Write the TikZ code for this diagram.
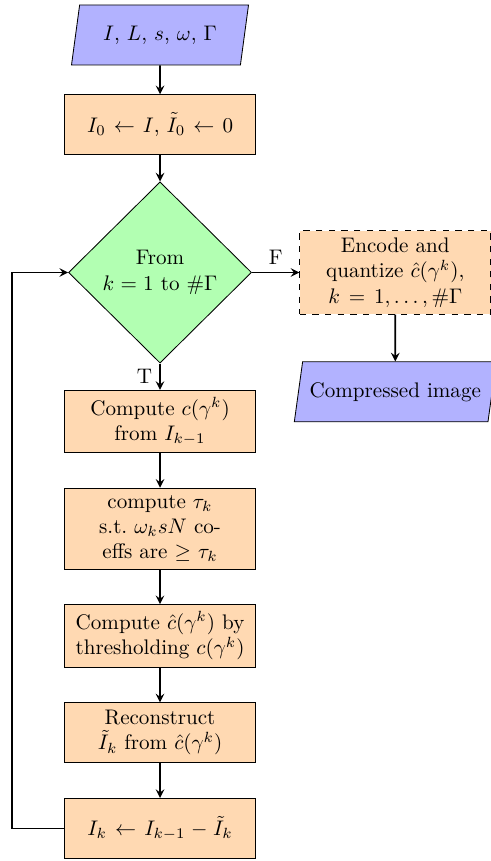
\documentclass[tikz,border=0pt]{standalone}
\usetikzlibrary{shapes.geometric,positioning}

\begin{document}
\begin{tikzpicture}[>=stealth, node distance=0.58cm,
    io/.style={trapezium, trapezium left angle=76, trapezium right angle=104,
      trapezium stretches body, minimum width=2.95cm, minimum height=1cm,
      align=center, draw=black, fill=blue!30},
    process/.style={rectangle, minimum width=3.18cm, minimum height=1cm,
      text width=2.95cm, align=center, draw=black, fill=orange!30},
    decision/.style={diamond, aspect=1, minimum width=3.05cm, minimum height=3.02cm,
      inner sep=0pt, text width=2cm, align=center, draw=black, fill=green!30},
    arrow/.style={thick,->}]
    \useasboundingbox (0,0) rectangle (8.167,-14.35);

    % main column
    \node[io] (input) at (2.667,-0.583) {$I$, $L$, $s$, $\omega$, $\Gamma$};
    \node[process, below=0.48cm of input] (init) {$I_0 \leftarrow I$, $\tilde{I}_0 \leftarrow 0$};
    \node[decision, below=0.44cm of init] (loopdec) {From\\ $k=1$ to $\#\Gamma$};
    \node[process, below=0.44cm of loopdec] (coef) {Compute $c(\gamma^k)$\\ from $I_{k-1}$};
    \node[process, below=of coef] (thr) {compute $\tau_k$\\ s.t.\ $\omega_k sN$ co-\\effs are $\geq$ $\tau_k$};
    \node[process, below=of thr] (hatc) {Compute $\hat{c}(\gamma^k)$ by\\ thresholding $c(\gamma^k)$};
    \node[process, below=of hatc] (recon) {Reconstruct\\ $\tilde{I}_k$ from $\hat{c}(\gamma^k)$};
    \node[process, below=of recon] (update) {$I_k \leftarrow I_{k-1} - \tilde{I}_k$};

    % exit branch
    \node[process, dashed, right=0.79cm of loopdec] (encode) {Encode and\\ quantize $\hat{c}(\gamma^k)$,\\ $k=1,\ldots,\#\Gamma$};
    \node[io, below=0.78cm of encode] (output) {Compressed image};

    \draw[arrow] (input) -- (init);
    \draw[arrow] (init) -- (loopdec);
    \draw[arrow] (loopdec) -- node[left] {T} (coef);
    \draw[arrow] (coef) -- (thr);
    \draw[arrow] (thr) -- (hatc);
    \draw[arrow] (hatc) -- (recon);
    \draw[arrow] (recon) -- (update);
    \draw[arrow] (update.west) -- ++(-0.87,0) |- (loopdec.west);
    \draw[arrow] (loopdec) -- node[above] {F} (encode);
    \draw[arrow] (encode) -- (output);
  \end{tikzpicture}
\end{document}
